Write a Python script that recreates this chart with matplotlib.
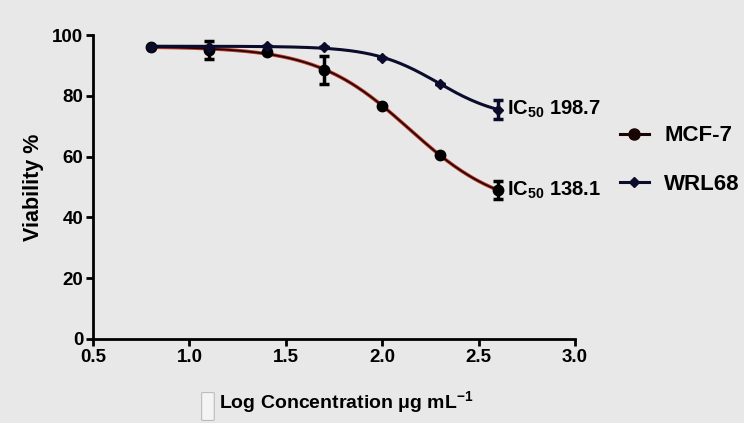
import numpy as np
import matplotlib
matplotlib.use('Agg')
import matplotlib.pyplot as plt
from matplotlib.patches import FancyBboxPatch
from matplotlib.lines import Line2D

plt.rcParams['font.family'] = ['Liberation Sans', 'DejaVu Sans']
plt.rcParams['font.weight'] = 'bold'
plt.rcParams['mathtext.fontset'] = 'custom'
plt.rcParams['mathtext.rm'] = 'Liberation Sans:bold'
plt.rcParams['mathtext.bf'] = 'Liberation Sans:bold'
plt.rcParams['mathtext.default'] = 'bf'

# data
log_conc = [0.8, 1.1, 1.4, 1.7, 2.0, 2.3, 2.6]
mcf7 = [96.2, 95.0, 94.5, 88.5, 76.5, 60.5, 49.0]
mcf7_err = [0.0, 3.0, 0.0, 4.5, 0.0, 0.0, 3.0]
wrl68 = [96.2, 96.0, 96.5, 96.0, 92.5, 84.0, 75.5]
wrl68_err = [0.0, 0.0, 0.0, 0.0, 0.0, 0.0, 3.0]
ic50_labels = ['198.7', '138.1']

BG = '#e8e8e8'


def fit_logistic(x, y):
    # 4-parameter logistic fit, grid search on logIC50 / hill, linear for top/bottom
    x = np.asarray(x)
    y = np.asarray(y)
    best = None
    for c in np.linspace(1.5, 3.5, 201):
        for h in np.linspace(0.3, 4.0, 75):
            s = 1.0 / (1.0 + 10 ** ((x - c) * h))
            A = np.column_stack([np.ones_like(s), s])
            coef, *_ = np.linalg.lstsq(A, y, rcond=None)
            err = np.sum((A @ coef - y) ** 2)
            if best is None or err < best[0]:
                best = (err, c, h, coef)
    _, c, h, coef = best
    return lambda xx: coef[0] + coef[1] / (1.0 + 10 ** ((xx - c) * h))


fig = plt.figure(figsize=(7.44, 4.23), dpi=100, facecolor=BG)
ax = fig.add_axes([0.125, 0.199, 0.648, 0.718], facecolor=BG)

xs = np.linspace(0.8, 2.6, 200)
f_mcf = fit_logistic(log_conc, mcf7)
f_wrl = fit_logistic(log_conc, wrl68)

# MCF-7: black line with red rim
ax.plot(xs, f_mcf(xs), color='#c0392b', lw=2.6, zorder=2)
ax.plot(xs, f_mcf(xs), color='#1a0505', lw=1.2, zorder=3)
ax.plot(xs, f_wrl(xs), color='#0b0b2b', lw=2.2, zorder=3)

ax.errorbar(log_conc, mcf7, yerr=mcf7_err, fmt='o', color='black', ms=7.5,
            capsize=3.5, capthick=2.5, elinewidth=2.5, zorder=4)
ax.errorbar(log_conc, wrl68, yerr=wrl68_err, fmt='D', color='#0b0b2b', ms=5,
            capsize=3.5, capthick=2.5, elinewidth=2.5, zorder=5)

ax.text(2.645, wrl68[-1], r'IC$_{50}$ ' + ic50_labels[0], fontsize=14.5,
        fontweight='bold', va='center', clip_on=False)
ax.text(2.645, mcf7[-1], r'IC$_{50}$ ' + ic50_labels[1], fontsize=14.5,
        fontweight='bold', va='center', clip_on=False)

ax.set_xlim(0.5, 3.0)
ax.set_ylim(0, 100)
ax.set_xticks([0.5, 1.0, 1.5, 2.0, 2.5, 3.0])
ax.set_xticklabels(['0.5', '1.0', '1.5', '2.0', '2.5', '3.0'])
ax.set_yticks([0, 20, 40, 60, 80, 100])
for s in ['top', 'right']:
    ax.spines[s].set_visible(False)
for s in ['left', 'bottom']:
    ax.spines[s].set_linewidth(2)
ax.tick_params(width=2, length=5, labelsize=13.5, direction='out', pad=2)
ax.set_ylabel('Viability %', fontsize=15.5, fontweight='bold', labelpad=6)
ax.set_xlabel(r'Log Concentration μg mL$^{-1}$', fontsize=14,
              fontweight='bold')
ax.xaxis.set_label_coords(0.525, -0.165)

# legend at the right
handles = [Line2D([], [], color='#1a0505', marker='o', ms=8, lw=2.2),
           Line2D([], [], color='#0b0b2b', marker='D', ms=5, lw=2.2)]
fig.legend(handles, ['MCF-7', 'WRL68'], loc='center left',
           bbox_to_anchor=(0.833, 0.621), frameon=False, fontsize=16,
           handlelength=1.3, labelspacing=1.25, handletextpad=0.7,
           borderpad=0, borderaxespad=0)

# small grey artefact left of the x label
fig.patches.append(FancyBboxPatch((0.273, 0.008), 0.013, 0.062,
                                  boxstyle='round,pad=0.002',
                                  transform=fig.transFigure,
                                  facecolor='#f4f4f4', edgecolor='#bcbcbc', lw=0.8))

fig.savefig('out.png', dpi=100, facecolor=BG)
